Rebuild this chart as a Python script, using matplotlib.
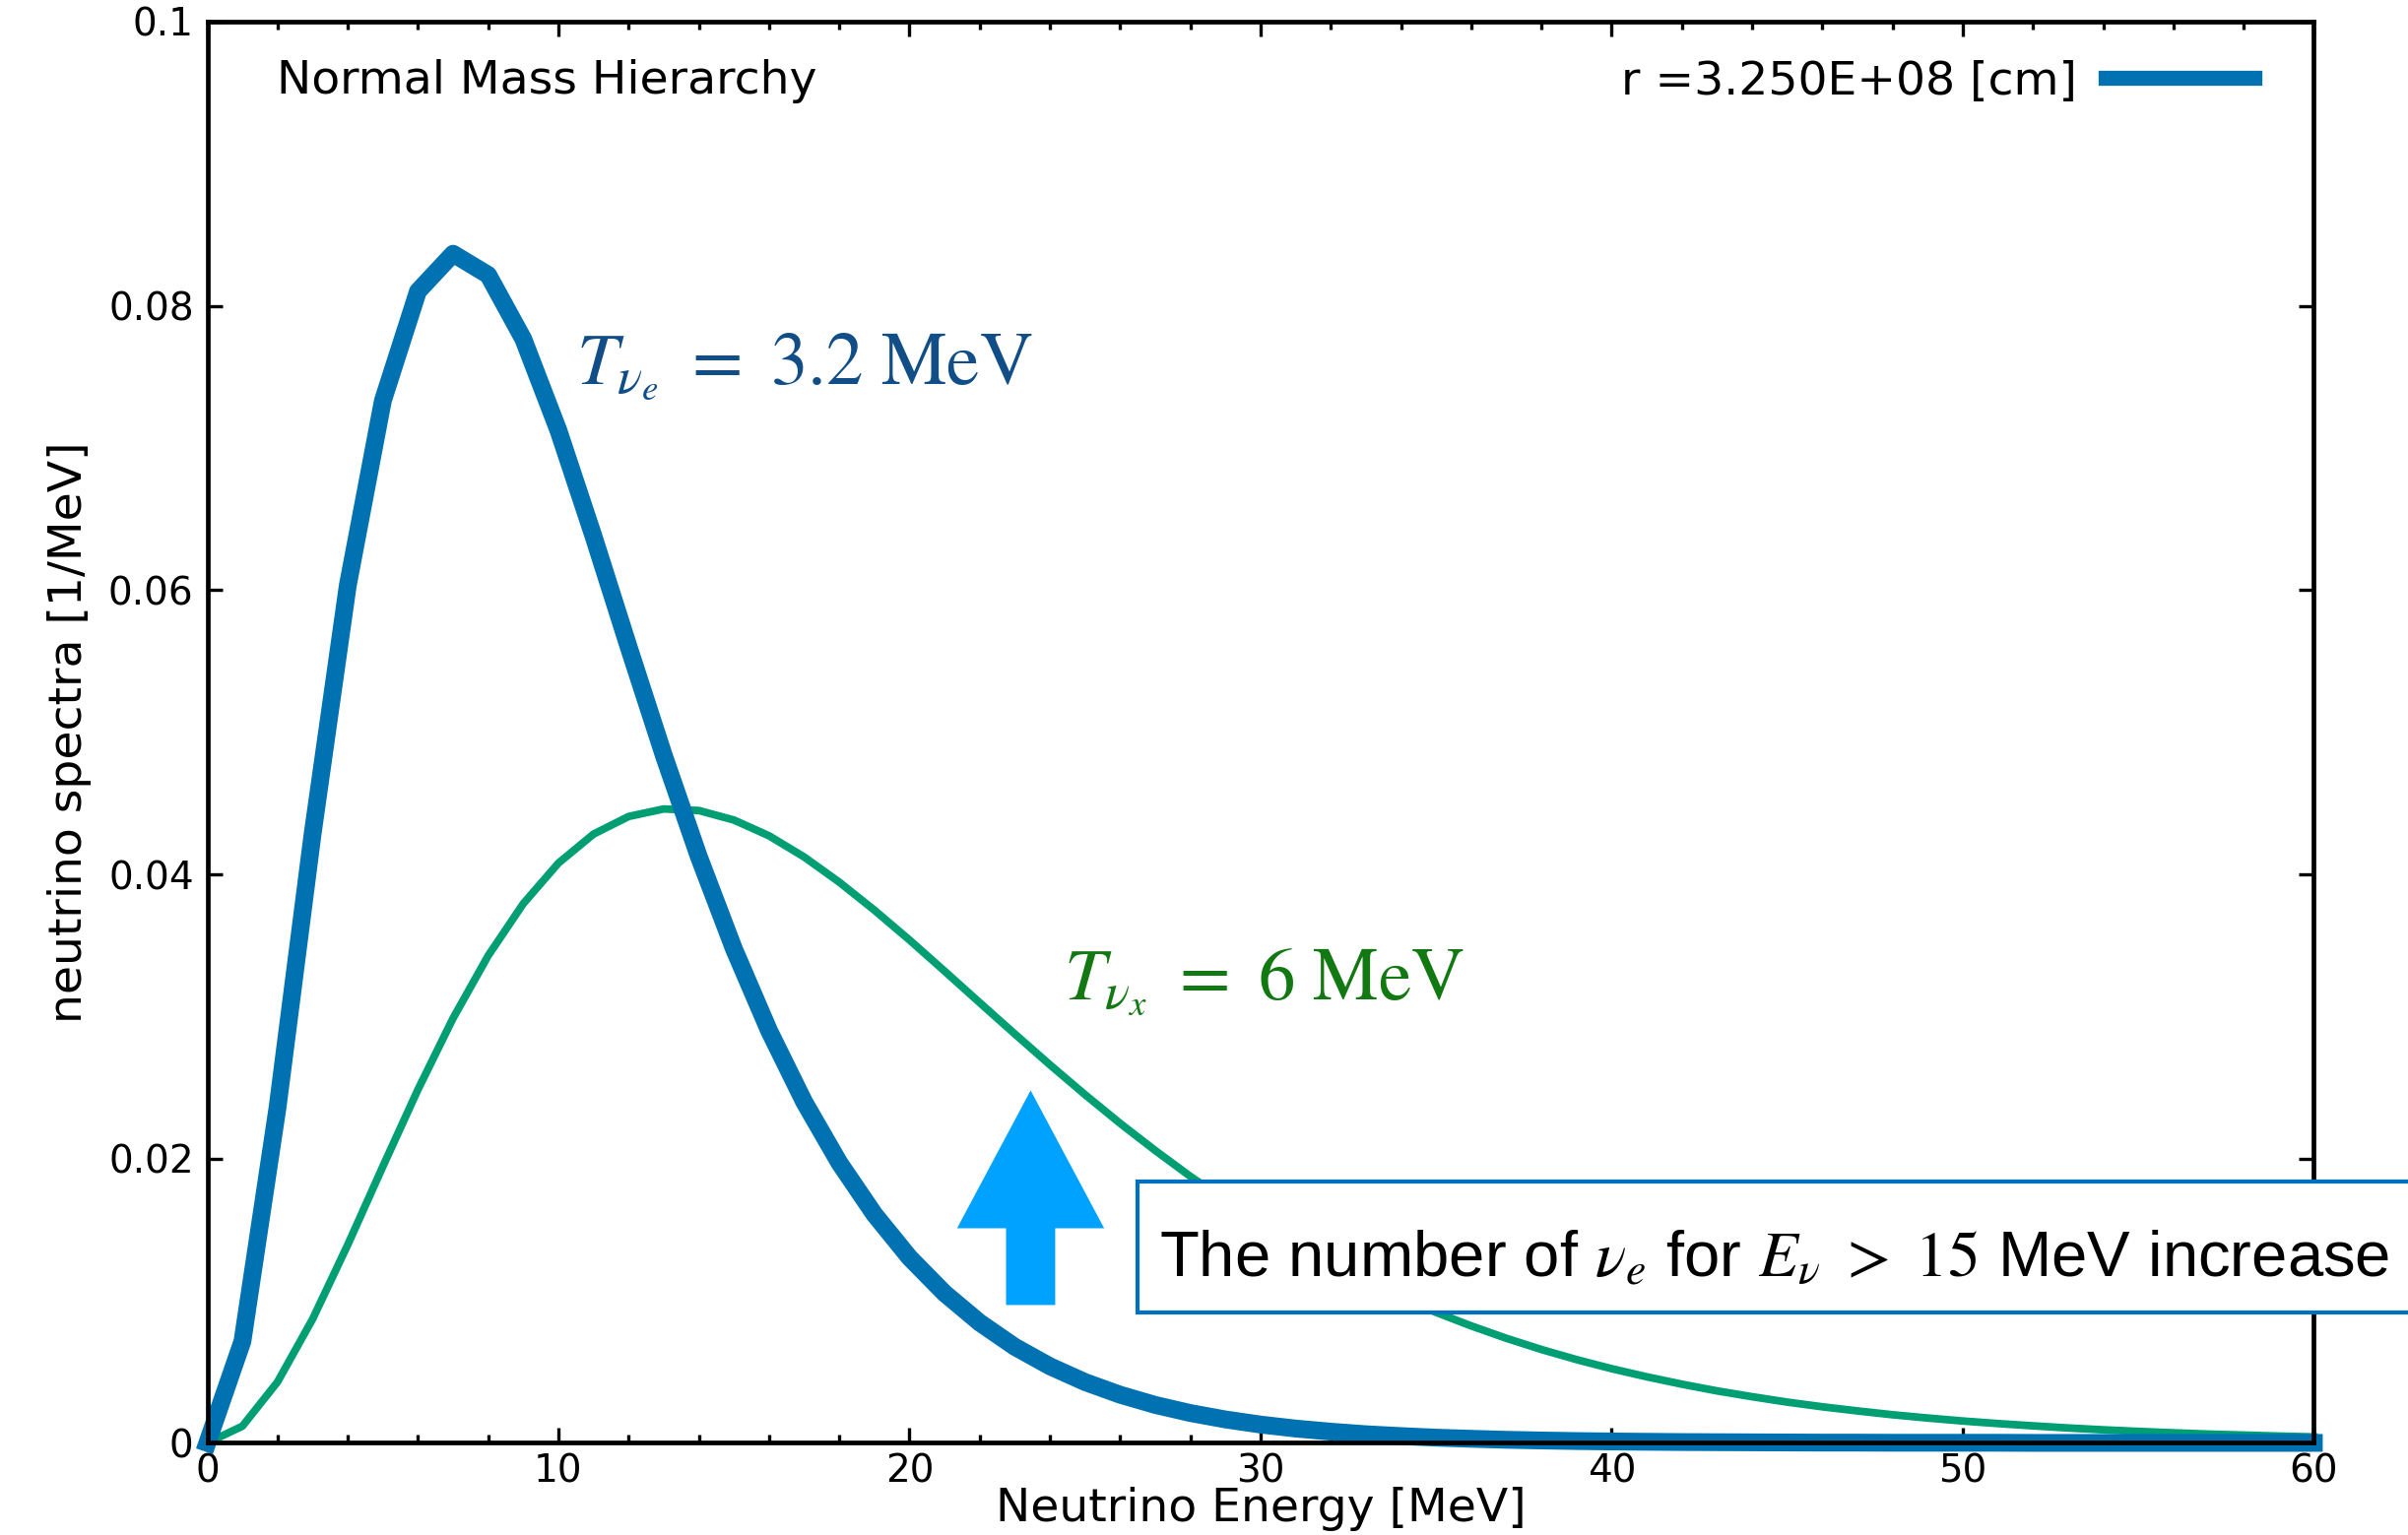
import numpy as np
import matplotlib
matplotlib.use('Agg')
import matplotlib.pyplot as plt
from matplotlib.patches import Rectangle, FancyArrow

plt.rcParams['font.family'] = ['DejaVu Sans']
plt.rcParams['mathtext.fontset'] = 'stix'

# energy grid [MeV], spectra sampled every 1 MeV
energy = np.arange(0, 61, 1)

# nu_e spectrum (T = 3.2 MeV)
spec_nue = [
    0.0, 0.00715, 0.02360, 0.04287, 0.06031, 0.07332, 0.08102, 0.08366, 0.08217, 0.07766,
    0.07123, 0.06378, 0.05600, 0.04838, 0.04124, 0.03475, 0.02900, 0.02399, 0.01971, 0.01608,
    0.01304, 0.01053, 0.00846, 0.00676, 0.00539, 0.00428, 0.00339, 0.00267, 0.00210, 0.00165,
    0.00129, 0.00101, 0.00079, 0.00061, 0.00048, 0.00037, 0.00029, 0.00022, 0.00017, 0.00013,
    0.00010, 0.00008, 0.00006, 0.00005, 0.00004, 0.00003, 0.00002, 0.00002, 0.00001, 0.00001,
    0.00001, 0.00001, 0.0, 0.0, 0.0, 0.0, 0.0, 0.0, 0.0, 0.0,
    0.0,
]

# nu_x spectrum (T = 6 MeV)
spec_nux = [
    0.0, 0.00118, 0.00429, 0.00872, 0.01394, 0.01945, 0.02486, 0.02988, 0.03428, 0.03794,
    0.04079, 0.04283, 0.04407, 0.04460, 0.04449, 0.04382, 0.04271, 0.04122, 0.03945, 0.03748,
    0.03538, 0.03319, 0.03097, 0.02877, 0.02660, 0.02450, 0.02248, 0.02057, 0.01875, 0.01705,
    0.01547, 0.01399, 0.01263, 0.01138, 0.01023, 0.00918, 0.00823, 0.00736, 0.00657, 0.00586,
    0.00522, 0.00465, 0.00413, 0.00366, 0.00325, 0.00287, 0.00254, 0.00225, 0.00198, 0.00175,
    0.00154, 0.00136, 0.00120, 0.00105, 0.00092, 0.00081, 0.00071, 0.00062, 0.00055, 0.00048,
    0.00042,
]

xticks = [0, 10, 20, 30, 40, 50, 60]
xticklabels = ['0', '10', '20', '30', '40', '50', '60']
yticks = [0, 0.02, 0.04, 0.06, 0.08, 0.1]
yticklabels = ['0', '0.02', '0.04', '0.06', '0.08', '0.1']

blue = '#0072B2'
green = '#009E73'

fig = plt.figure(figsize=(12.225, 7.795), dpi=200)
ax = fig.add_axes([0.0861, 0.0600, 0.8748, 0.9260])

ax.plot(energy, spec_nux, color=green, lw=2.8, clip_on=False, zorder=2)
ax.plot(energy, spec_nue, color=blue, lw=6.5, clip_on=False, zorder=2.1,
        label='r =3.250E+08 [cm]')

ax.set_xlim(0, 60)
ax.set_ylim(0, 0.1)
ax.set_xticks(xticks)
ax.set_xticklabels(xticklabels)
ax.set_xticks(np.arange(0, 61, 2), minor=True)
ax.set_yticks(yticks)
ax.set_yticklabels(yticklabels)

for s in ax.spines.values():
    s.set_linewidth(1.7)
ax.tick_params(which='both', direction='in', top=True, right=True,
               width=1.2, labelsize=14, pad=5)
ax.tick_params(axis='x', which='both', pad=3.5)
ax.tick_params(which='major', length=5.5)
ax.tick_params(which='minor', length=3)
ax.tick_params(axis='y', which='minor', left=False, right=False)

ax.set_xlabel('Neutrino Energy [MeV]', fontsize=17, labelpad=-1)
ax.set_ylabel('neutrino spectra [1/MeV]', fontsize=17, labelpad=6)

ax.text(0.033, 0.958, 'Normal Mass Hierarchy', transform=ax.transAxes,
        fontsize=17, va='center', ha='left')

leg = ax.legend(loc='upper right', bbox_to_anchor=(0.9716, 0.973), frameon=False,
                markerfirst=False, fontsize=17, handlelength=3.2, handletextpad=0.6,
                borderpad=0, borderaxespad=0)
leg.get_lines()[0].set_linewidth(5.5)

# temperature labels
ax.text(10.5, 0.0745, r'$T_{\nu_e}\ =\ 3.2\ \mathrm{MeV}$', color='#114D87',
        fontsize=27, va='baseline', ha='left')
ax.text(24.4, 0.0312, r'$T_{\nu_x}\ =\ 6\ \mathrm{MeV}$', color='#127812',
        fontsize=27, va='baseline', ha='left')

# up arrow
arr = FancyArrow(23.45, 0.0097, 0, 0.0151, width=1.40, head_width=4.19,
                 head_length=0.0097, length_includes_head=True,
                 color='#00A2FF', lw=0, zorder=5)
ax.add_patch(arr)

# note box running off the right edge
box = Rectangle((0.4725, 0.145), 0.56, 0.085, transform=fig.transFigure,
                facecolor='white', edgecolor='#0070C0', lw=1.5,
                clip_on=False, zorder=10)
ax.add_patch(box)
ax.text(0.4814, 0.168, r'The number of $\nu_e$ for $E_\nu\ >\ 15$ MeV increase',
        transform=fig.transFigure, fontsize=23.5, va='baseline', ha='left',
        family=['Liberation Sans'], zorder=11)

fig.savefig('out.png', dpi=200)
